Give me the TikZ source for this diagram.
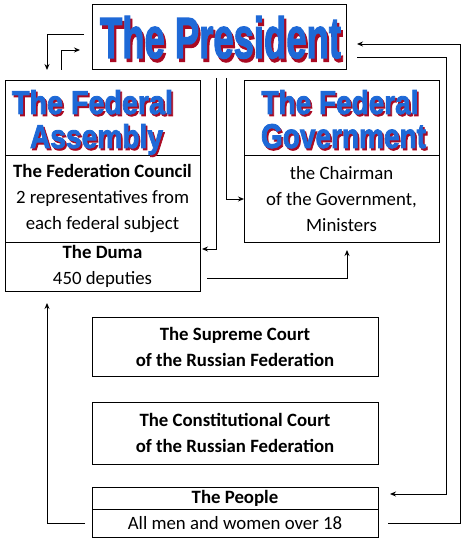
\documentclass[tikz,border=0pt]{standalone}
\usepackage{fontspec}
\setmainfont{Carlito}
\newfontfamily\artfont[FakeBold=2.5]{Liberation Sans Bold}
\usetikzlibrary{arrows.meta}
\usetikzlibrary{calc}
\definecolor{artblue}{RGB}{30,105,215}
\definecolor{artshadow}{RGB}{170,10,35}
\newcommand{\wordart}[1]{\rlap{\kern0.06em\raisebox{-0.06em}{\textcolor{artshadow}{#1}}}\textcolor{artblue}{#1}}
\newcommand{\arttext}[3]{\resizebox{#1pt}{#2pt}{\artfont\wordart{#3}}}
\tikzset{
  part box/.style={
    draw,
    rectangle,
    inner sep=0pt,
    outer sep=0pt,
    line width=1pt,
    align=center,
    font=\fontsize{18.8}{26}\selectfont,
  }
}
\tikzset{
  art text/.style={
    anchor=base,
    inner sep=0pt,
  }
}
\begin{document}
\begin{tikzpicture}[
    x=1pt, y=-1pt,
    >={Stealth[length=6pt,width=5pt]},
    line width=0.9pt,
    ]
    \useasboundingbox (0,0) rectangle (466,545);

    % boxes
    \node[part box, minimum width=254, minimum height=65] (pres) at (219,37.5) {};
    \node[part box, minimum width=195, minimum height=75] (asmT) at (102.5,118.5) {};
    \node[part box, minimum width=195, minimum height=86]
      (council) at (102.5,199) {\textbf{The Federation Council}\\2 representatives from\\each federal subject};
    \node[part box, minimum width=195, minimum height=49]
      (duma) at (102.5,266.5) {\textbf{The Duma}\\450 deputies};
    \node[part box, minimum width=195, minimum height=75] (govT) at (341.5,118.5) {};
    \node[part box, minimum width=195, minimum height=86]
      (govB) at (341.5,199) {the Chairman\\of the Government,\\Ministers};
    \node[part box, minimum width=286, minimum height=59]
      (supreme) at (235,346.5) {\textbf{The Supreme Court}\\\textbf{of the Russian Federation}};
    \node[part box, minimum width=286, minimum height=62]
      (const) at (235,433) {\textbf{The Constitutional Court}\\\textbf{of the Russian Federation}};
    \node[part box, minimum width=286, minimum height=22]
      (peopleT) at (235,498) {\textbf{The People}};
    \node[part box, minimum width=286, minimum height=28]
      (peopleB) at (235,523) {All men and women over 18};

    % titles
    \node[art text] (presTitle) at (220.5,58) {\arttext{241}{42}{The President}};
    \node[art text] (asmTitleA) at (92.5,114) {\arttext{161}{24}{The Federal}};
    \node[art text] (asmTitleB) at (96.5,148) {\arttext{133}{24}{Assembly}};
    \node[art text] (govTitleA) at (340,114) {\arttext{157}{24}{The Federal}};
    \node[art text] (govTitleB) at (343.5,148) {\arttext{165}{24}{Government}};

    % connectors
    \draw[->] ($(pres.west)+(-8,-3.5)$) -| ($(asmT.north west)+(42,-11)$);
    \draw[->] ($(asmT.north west)+(56,-11)$) |- ($(pres.west)+(-12,12.5)$);
    \draw[->] ($(pres.south)+(-3,8)$) |- ($(duma.east)+(2,-17.5)$);
    \draw[->] ($(pres.south)+(7,8)$) |- (govB.west);
    \draw[->] ($(duma.east)+(7,11.5)$) -| ($(govB.south)+(5.5,8)$);
    \draw[->] ($(peopleB.west)+(-7,0)$) -| ($(duma.south west)+(42,12)$);
    \draw[->] ($(peopleB.east)+(10,0)$) -- ++(72,0) |- ($(pres.east)+(11,6.5)$);
    \draw[->] ($(pres.east)+(11,19.5)$) -- ++(89,0) |- ($(peopleT.east)+(12,-4)$);

  \end{tikzpicture}
\end{document}
